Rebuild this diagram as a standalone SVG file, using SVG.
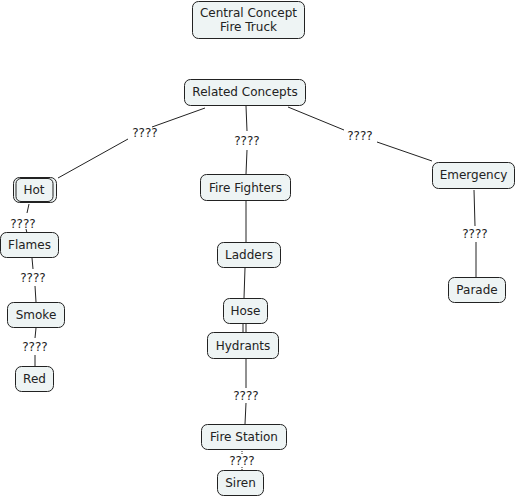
<svg xmlns="http://www.w3.org/2000/svg" width="518" height="498" viewBox="0 0 518 498">
<style>
.n rect{fill:#eef4f4;stroke:#222;stroke-width:1}
text{font-family:"DejaVu Sans",Verdana,sans-serif;font-size:12px;fill:#222;text-anchor:middle}
.c line{stroke:#222;stroke-width:1}
</style>
<rect width="518" height="498" fill="#fff"/>
<g class="c">
<line x1="205" y1="108" x2="152" y2="127"/>
<line x1="128" y1="139" x2="58" y2="178"/>
<line x1="246" y1="106" x2="247" y2="131"/>
<line x1="247" y1="150" x2="246" y2="174"/>
<line x1="288" y1="107" x2="344" y2="130"/>
<line x1="377" y1="142" x2="432" y2="161"/>
<line x1="29" y1="204" x2="27" y2="213"/>
<line x1="26" y1="229" x2="27" y2="233"/>
<line x1="32" y1="258" x2="33" y2="269"/>
<line x1="35" y1="286" x2="36" y2="302"/>
<line x1="36" y1="328" x2="35" y2="338"/>
<line x1="35" y1="355" x2="35" y2="366"/>
<line x1="246" y1="201" x2="246" y2="242"/>
<line x1="245" y1="268" x2="244" y2="298"/>
<line x1="243" y1="324" x2="243" y2="332"/>
<line x1="246" y1="324" x2="246" y2="332"/>
<line x1="246" y1="359" x2="246" y2="388"/>
<line x1="246" y1="403" x2="245" y2="424"/>
<line x1="242" y1="451" x2="242" y2="454" stroke-dasharray="1,1"/>
<line x1="242" y1="467" x2="242" y2="470" stroke-dasharray="1,1"/>
<line x1="474" y1="190" x2="475" y2="226"/>
<line x1="476" y1="242" x2="476" y2="277"/>
<text x="145" y="137">????</text>
<text x="247" y="145">????</text>
<text x="360" y="140">????</text>
<text x="23" y="228">????</text>
<text x="33" y="282">????</text>
<text x="35" y="351">????</text>
<text x="246" y="400">????</text>
<text x="242" y="465">????</text>
<text x="475" y="238">????</text>
</g>
<g id="central" class="n"><rect x="192.5" y="1.5" width="112" height="37" rx="6"/><text x="248.5" y="17">Central Concept</text><text x="248.5" y="31">Fire Truck</text></g>
<g id="related" class="n"><rect x="184.5" y="79.5" width="121" height="26" rx="6"/><text x="245" y="96">Related Concepts</text></g>
<g id="hot" class="n"><rect x="13.5" y="177.5" width="43" height="25" rx="6"/><rect x="16" y="178.5" width="37" height="23" rx="5"/><text x="34" y="194">Hot</text></g>
<g id="firefighters" class="n"><rect x="200.5" y="174.5" width="90" height="26" rx="6"/><text x="245.5" y="192">Fire Fighters</text></g>
<g id="emergency" class="n"><rect x="432.5" y="162.5" width="82" height="26" rx="6"/><text x="473.5" y="179">Emergency</text></g>
<g id="flames" class="n"><rect x="0.5" y="232.5" width="58" height="25" rx="6"/><text x="29.5" y="249">Flames</text></g>
<g id="smoke" class="n"><rect x="7.5" y="302.5" width="57" height="25" rx="6"/><text x="36" y="319">Smoke</text></g>
<g id="red" class="n"><rect x="15.5" y="366.5" width="38" height="25" rx="6"/><text x="34.5" y="383">Red</text></g>
<g id="ladders" class="n"><rect x="217.5" y="242.5" width="63" height="25" rx="6"/><text x="249" y="259">Ladders</text></g>
<g id="hose" class="n"><rect x="223.5" y="298.5" width="44" height="25" rx="6"/><text x="245.5" y="315">Hose</text></g>
<g id="hydrants" class="n"><rect x="207.5" y="332.5" width="71" height="26" rx="6"/><text x="243" y="350">Hydrants</text></g>
<g id="firestation" class="n"><rect x="201.5" y="424.5" width="85" height="25" rx="6"/><text x="244" y="441">Fire Station</text></g>
<g id="siren" class="n"><rect x="217.5" y="470.5" width="46" height="25" rx="6"/><text x="240.5" y="487">Siren</text></g>
<g id="parade" class="n"><rect x="448.5" y="277.5" width="57" height="25" rx="6"/><text x="477" y="294">Parade</text></g>
</svg>
